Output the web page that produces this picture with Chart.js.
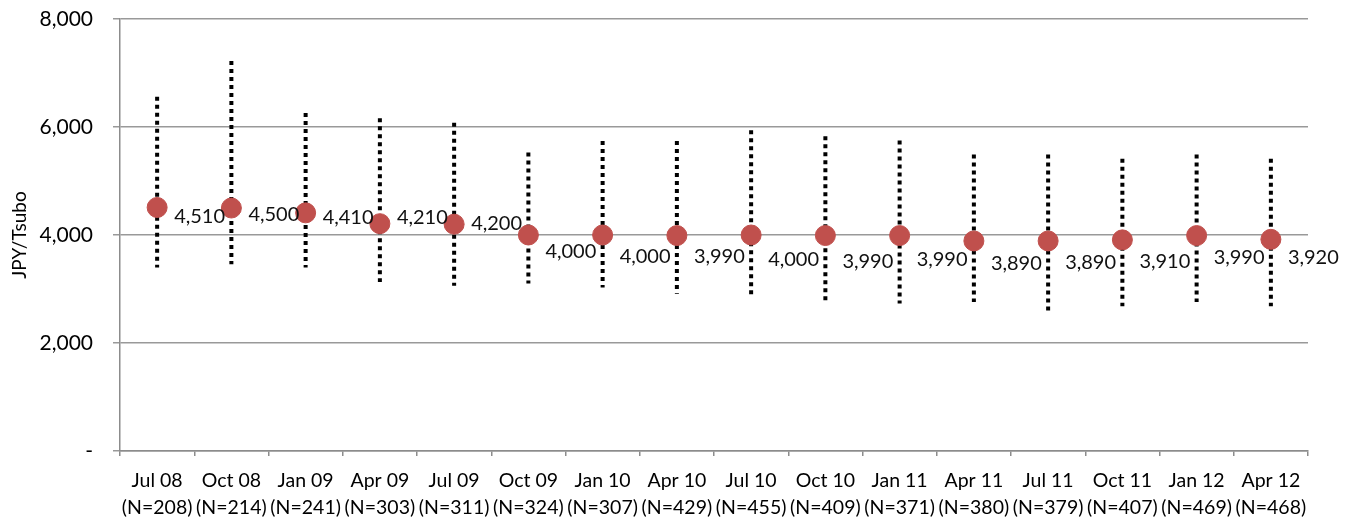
<!DOCTYPE html>
<html>
<head>
<meta charset="utf-8">
<script src="https://cdn.jsdelivr.net/npm/chart.js@4/dist/chart.umd.min.js"></script>
<style>
  html, body { margin: 0; padding: 0; background: #fff; }
  #wrap { width: 1357px; height: 517px; position: relative; }
</style>
</head>
<body>
<div id="wrap"><canvas id="c" width="1357" height="517"></canvas></div>
<script>
// ---- data ----
const periods = ["Jul 08","Oct 08","Jan 09","Apr 09","Jul 09","Oct 09","Jan 10","Apr 10","Jul 10","Oct 10","Jan 11","Apr 11","Jul 11","Oct 11","Jan 12","Apr 12"];
const sampleSizes = [208,214,241,303,311,324,307,429,455,409,371,380,379,407,469,468];
const medianRent = [4510,4500,4410,4210,4200,4000,4000,3990,4000,3990,3990,3890,3890,3910,3990,3920];
const rangeHigh = [6560,7220,6260,6160,6080,5530,5740,5740,5940,5830,5750,5490,5490,5410,5490,5410];
const rangeLow  = [3400,3460,3400,3130,3060,3100,3030,2910,2900,2790,2730,2760,2600,2680,2760,2680];
const yTicks = [0,2000,4000,6000,8000];

// ---- style (label vertical offsets in px, not data) ----
const labelDy = [9,7,5,-6,-1,17,22,21,25,26,24,23,22,22,22,18];

const rangeData = [];
periods.forEach((p, i) => {
  rangeData.push({x: p, y: rangeHigh[i]});
  rangeData.push({x: p, y: rangeLow[i]});
  rangeData.push({x: p, y: null});
});

const FONT = "Lato, 'Open Sans', sans-serif";

const labelPlugin = {
  id: 'valueLabels',
  afterDatasetsDraw(chart) {
    const meta = chart.getDatasetMeta(0);
    const ctx = chart.ctx;
    ctx.save();
    ctx.font = "20px " + FONT;
    ctx.fillStyle = "#111";
    ctx.textAlign = "left";
    ctx.textBaseline = "middle";
    meta.data.forEach((pt, i) => {
      ctx.fillText(medianRent[i].toLocaleString('en-US'), pt.x + 17, pt.y + labelDy[i]);
    });
    ctx.restore();
  }
};

new Chart(document.getElementById('c'), {
  type: 'line',
  data: {
    labels: periods,
    datasets: [
      {
        label: 'Median',
        data: medianRent,
        showLine: false,
        pointRadius: 10,
        pointHoverRadius: 10,
        pointBackgroundColor: '#C0504D',
        pointBorderColor: '#C0504D',
        pointBorderWidth: 1
      },
      {
        label: 'Range',
        data: rangeData,
        spanGaps: false,
        borderColor: '#000',
        borderWidth: 4,
        borderDash: [4, 4],
        borderCapStyle: 'butt',
        pointRadius: 0,
        pointHoverRadius: 0,
        fill: false
      }
    ]
  },
  options: {
    responsive: false,
    animation: false,
    events: [],
    layout: { padding: { top: 19, right: 49, left: 0, bottom: 0 } },
    plugins: { legend: { display: false }, tooltip: { enabled: false } },
    scales: {
      x: {
        type: 'category',
        offset: true,
        grid: { offset: true, drawOnChartArea: false, color: '#8c8c8c', lineWidth: 1.5, tickLength: 5 },
        border: { color: '#8c8c8c', width: 1.5 },
        ticks: {
          color: '#000',
          font: { family: FONT, size: 19.5, lineHeight: 1.38 },
          padding: 11,
          maxRotation: 0,
          autoSkip: false,
          callback: function(v, i) { return [periods[i], '(N=' + sampleSizes[i] + ')']; }
        },
        afterFit(scale) { scale.height = 66; scale.paddingLeft = 0; scale.paddingRight = 0; }
      },
      y: {
        min: 0,
        max: 8000,
        afterBuildTicks(scale) { scale.ticks = yTicks.map(v => ({ value: v })); },
        grid: { color: '#999', lineWidth: 1.5, tickLength: 7 },
        border: { color: '#8c8c8c', width: 1.5 },
        ticks: {
          color: '#000',
          font: { family: FONT, size: 21 },
          padding: 20,
          callback: v => v === 0 ? '-' : v.toLocaleString('en-US')
        },
        title: {
          display: true,
          text: 'JPY/Tsubo',
          color: '#000',
          font: { family: FONT, size: 19 },
          padding: { top: 8, bottom: 0 }
        },
        afterFit(scale) { scale.width = 120; scale.paddingTop = 0; scale.paddingBottom = 0; }
      }
    }
  },
  plugins: [labelPlugin]
});
</script>
</body>
</html>
